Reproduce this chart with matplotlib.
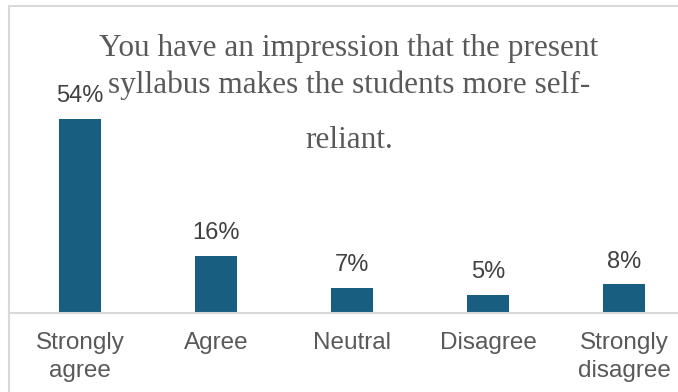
import matplotlib
matplotlib.use('Agg')
import matplotlib.pyplot as plt
from matplotlib.patches import Rectangle

# survey answers
categories = ['Strongly\nagree', 'Agree', 'Neutral', 'Disagree', 'Strongly\ndisagree']
percent = [54, 16, 7, 5, 8]
title_lines = ['You have an impression that the present',
               'syllabus makes the students more self-',
               'reliant.']

W, H = 678, 392
fig = plt.figure(figsize=(W / 100, H / 100), dpi=100)

# outer chart border (right/bottom run off the picture)
fig.patches.append(Rectangle((9 / W, -0.05), 1.0, 1 - 6 / H + 0.05,
                             transform=fig.transFigure, fill=False,
                             edgecolor='#d9d9d9', linewidth=1.5))

px_per_pct = 3.59
base = 313
ax = fig.add_axes([9 / W, 1 - base / H, 1 - 9 / W, 60 * px_per_pct / H])
ax.set_facecolor('none')

x = list(range(len(categories)))
ax.bar(x, percent, width=0.31, color='#175e80')
ax.set_xlim(-0.522, 4.397)
ax.set_ylim(0, 60)

for i, v in zip(x, percent):
    ax.annotate(f'{v}%', (i, v), xytext=(0, 12), textcoords='offset points',
                ha='center', va='baseline', fontsize=17,
                family='Liberation Sans', color='#404040', clip_on=False)

ax.set_xticks(x)
ax.set_xticklabels(categories, fontsize=17.5, family='Liberation Sans',
                   color='#595959', linespacing=1.37)
ax.tick_params(axis='x', length=0, pad=13.5)
ax.set_yticks([])
for s in ['top', 'right', 'left']:
    ax.spines[s].set_visible(False)
ax.spines['bottom'].set_color('#d9d9d9')
ax.spines['bottom'].set_linewidth(1.5)

# title, drawn line by line to follow the uneven spacing
title_base = [56, 93, 148]
for line, yb in zip(title_lines, title_base):
    fig.text(349 / W, 1 - yb / H, line, ha='center', va='baseline',
             fontsize=22.5, family='Liberation Serif', color='#595959')

fig.savefig('out.png', dpi=100)
